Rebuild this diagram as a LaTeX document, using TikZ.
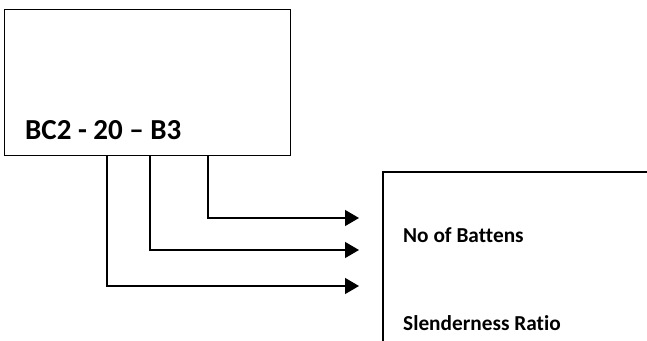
\documentclass[tikz,border=0pt]{standalone}
\usepackage{fontspec}
\setmainfont[Ligatures=NoCommon]{Carlito}
\usetikzlibrary{arrows.meta}
\begin{document}
\begin{tikzpicture}[x=1pt,y=-1pt,
  frame/.style={draw,line width=1.3pt,inner sep=0pt},
  link/.style={line width=1.3pt,-{Triangle[length=14pt,width=16pt]}},
  lbl/.style={anchor=base west,inner sep=0pt,font=\bfseries}]
\useasboundingbox (0,0) rectangle (647,340);
\node[frame,minimum width=286pt,minimum height=146pt,anchor=north west] (box1) at (4,9) {};
\node[lbl,font=\fontsize{29}{34}\bfseries\selectfont] (code) at (25,139) {BC2 - 20 – B3};
\coordinate (rb) at (383,172);
\draw[line width=1.3pt] (647,172) -- (rb) -- (383,341);
\node[lbl,font=\fontsize{21.3}{25}\bfseries\selectfont] (t1) at (403,242) {No of Battens};
\node[lbl,font=\fontsize{21.3}{25}\bfseries\selectfont] (t2) at (403,330) {Slenderness Ratio};
\coordinate (e1) at (359,218);
\coordinate (e2) at (359,250);
\coordinate (e3) at (359,286);
\draw[link] (box1.south west -| 208,0) |- (e1);
\draw[link] (box1.south west -| 150,0) |- (e2);
\draw[link] (box1.south west -| 107,0) |- (e3);
\end{tikzpicture}
\end{document}
